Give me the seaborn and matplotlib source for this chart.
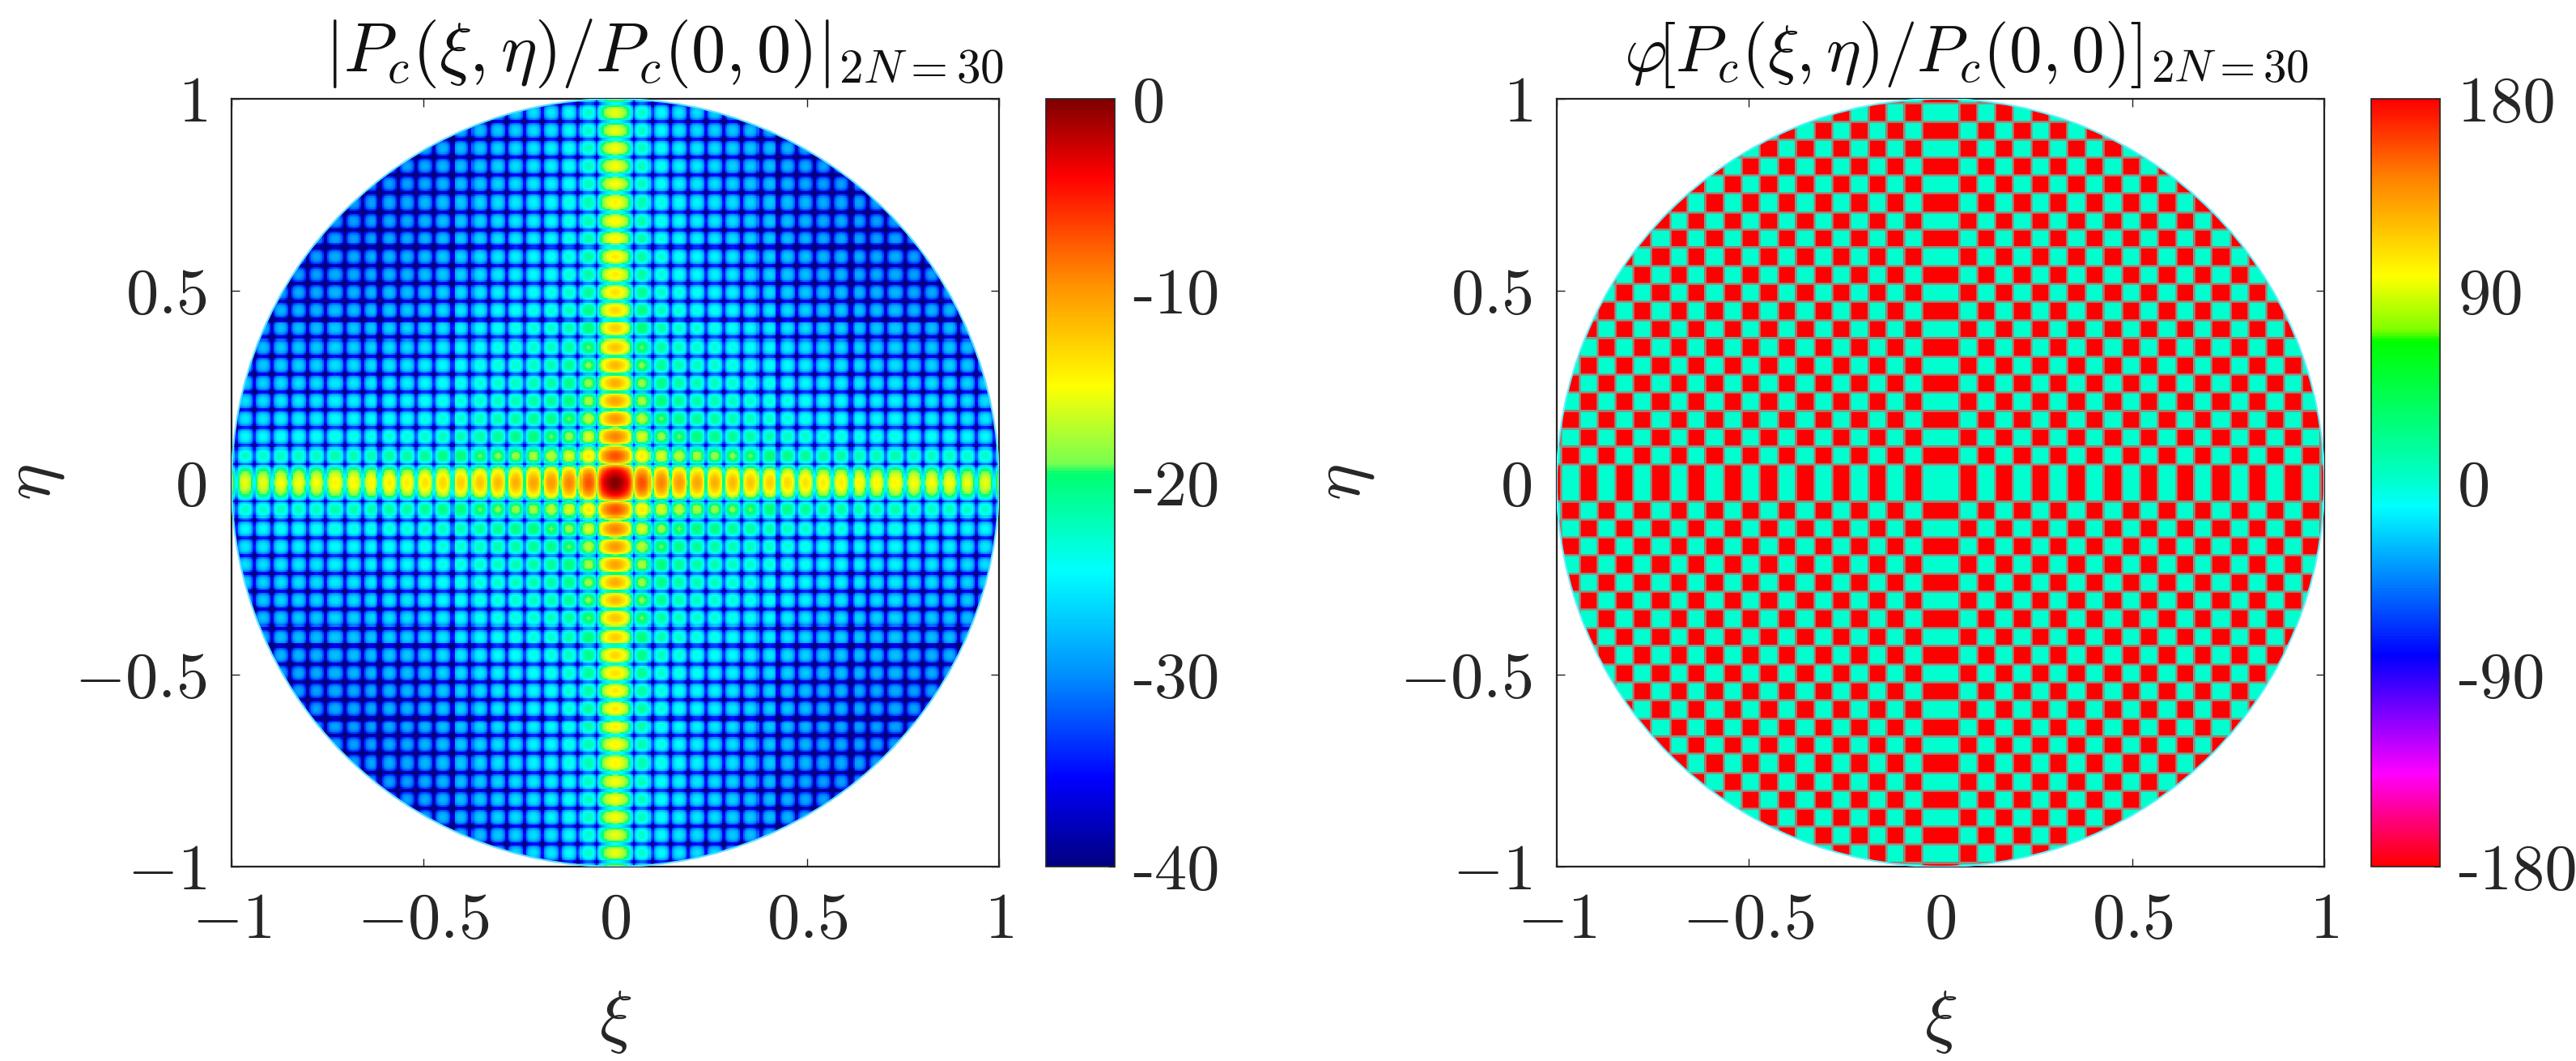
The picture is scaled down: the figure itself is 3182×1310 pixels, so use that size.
import numpy as np
import matplotlib
matplotlib.use('Agg')
import matplotlib.pyplot as plt
from matplotlib.colors import LinearSegmentedColormap
from matplotlib.patches import Circle
import seaborn as sns

# =============================================================================
# #Values
# =============================================================================
# edges of the lobes along one axis (positive side, the picture is symmetric)
lobe_edges = [0.048, 0.095, 0.142, 0.188, 0.236, 0.282, 0.329, 0.378, 0.424, 0.473, 0.519,
              0.565, 0.614, 0.660, 0.705, 0.755, 0.802, 0.848, 0.894, 0.941, 0.989]
# peak level of each side lobe on the axis, dB
axis_lobe_db = [-7.0, -9.0, -10.0, -10.5, -11.0, -11.5, -12.0, -12.5, -13.0, -13.5, -14.0,
                -14.0, -14.5, -14.5, -14.5, -15.0, -15.0, -15.0, -15.5, -15.5, -15.5, -15.5]
# level inside a lobe relative to its peak, dB
side_lobe_profile_db = [-9.0, -4.0, -1.8, -0.7, -0.2, 0.0, -0.2, -0.7, -1.8, -4.0, -9.0]
main_lobe_half_db = [0.0, -0.2, -0.5, -1.0, -1.5, -2.2, -3.0, -4.0, -5.5, -7.5, -10.5]
# phase of each lobe along one axis, main lobe first, degrees
lobe_phase_deg = [0, 180, 0, 180, 0, 180, 0, 180, 0, 180, 0, 180,
                  0, 180, 0, 180, 0, 180, 0, 180, 0, 180]
lobe_phase_deg = lobe_phase_deg + [0]

tick_values = [-1, -0.5, 0, 0.5, 1]
tick_labels = ['$-1$', '$-0.5$', '$0$', '$0.5$', '$1$']
mag_cbar_ticks = [-40, -30, -20, -10, 0]
phase_cbar_ticks = [-180, -90, 0, 90, 180]
mag_title = r'$|P_c(\xi,\eta)/P_c(0,0)|_{2N{=}30}$'
phase_title = r'$\varphi\![P_c(\xi,\eta)/P_c(0,0)]_{2N{=}30}$'

jet_nodes = [(0.0, '#000080'), (0.113, '#0000ff'), (0.25, '#0090ff'), (0.384, '#00ffff'),
             (0.512, '#00ff70'), (0.525, '#78ff50'), (0.627, '#ffff00'), (0.76, '#ff9000'),
             (0.90, '#ff0000'), (1.0, '#800000')]
phase_nodes = [(0.0, '#ff0000'), (0.12, '#ff00ff'), (0.274, '#0000ff'), (0.469, '#00ffff'),
               (0.50, '#00ffd0'), (0.685, '#00ff00'), (0.70, '#80ff00'), (0.77, '#ffff00'),
               (0.90, '#ff8000'), (1.0, '#ff0000')]

# =============================================================================
# #Build the fields from the axis cuts (the pattern is separable in dB)
# =============================================================================
n = 474
coords = -1 + (np.arange(n) + 0.5) * 2 / n
edges = np.array(lobe_edges)
lobe_idx = np.searchsorted(edges, np.abs(coords))

cut_db = np.zeros(n)
cut_phase = np.zeros(n)
for i in range(n):
    k = lobe_idx[i]
    cut_phase[i] = lobe_phase_deg[k]
    if k == 0:
        s = int(abs(coords[i]) / edges[0] * len(main_lobe_half_db))
        cut_db[i] = main_lobe_half_db[min(s, len(main_lobe_half_db) - 1)]
    else:
        hi = edges[k] if k < len(edges) else edges[-1] + 0.047
        s = int((abs(coords[i]) - edges[k - 1]) / (hi - edges[k - 1]) * len(side_lobe_profile_db))
        cut_db[i] = axis_lobe_db[k - 1] + side_lobe_profile_db[min(s, len(side_lobe_profile_db) - 1)]

mag = np.clip(cut_db[:, None] + cut_db[None, :], -40, 0)
phase = (cut_phase[:, None] + cut_phase[None, :]) % 360
outside = coords[:, None] ** 2 + coords[None, :] ** 2 > 1

# =============================================================================
# #Figure
# =============================================================================
sns.set_theme(style='white')
plt.rcParams['mathtext.fontset'] = 'cm'
plt.rcParams['font.family'] = ['cmr10', 'DejaVu Sans']
plt.rcParams['axes.formatter.use_mathtext'] = True

W, H = 3182, 1310
fig = plt.figure(figsize=(W / 100, H / 100), dpi=100, facecolor='white')


def px_axes(x0, x1, y0, y1):
    return fig.add_axes([x0 / W, 1 - y1 / H, (x1 - x0) / W, (y1 - y0) / H])


def draw_panel(data, box, cbar_box, cmap_nodes, vmin, vmax, cbar_ticks, title, title_x, title_size, ylabel_x):
    ax = px_axes(*box)
    cax = px_axes(*cbar_box)
    cmap = LinearSegmentedColormap.from_list('c', cmap_nodes, N=256)
    sns.heatmap(data, mask=outside, ax=ax, cbar_ax=cax, cmap=cmap, vmin=vmin, vmax=vmax,
                xticklabels=False, yticklabels=False, square=False,
                cbar_kws={'ticks': cbar_ticks})
    # heatmap is in cell units, the ticks go through the xi/eta range
    ax.set_xticks([(v + 1) / 2 * n for v in tick_values])
    ax.set_xticklabels(tick_labels, fontsize=58)
    ax.set_yticks([(1 - v) / 2 * n for v in tick_values])
    ax.set_yticklabels(tick_labels, fontsize=58)
    ax.tick_params(axis='x', direction='in', top=True, bottom=True, length=7.5, width=1, color='#222222', pad=23)
    ax.tick_params(axis='y', direction='in', left=True, right=True, length=7.5, width=1, color='#222222', pad=22)
    for s in ax.spines.values():
        s.set_visible(True)
        s.set_color('#222222')
        s.set_linewidth(1.6)
    ax.set_xlabel(r'$\xi$', fontsize=62, labelpad=34)
    ax.set_ylabel(r'$\eta$', fontsize=62)
    ax.yaxis.set_label_coords(ylabel_x, 0.5)
    fig.text(title_x / W, 1 - 88 / H, title, fontsize=title_size, ha='center', va='baseline', color='#111111')

    cbar = ax.collections[0].colorbar
    cbar.ax.set_yticklabels([str(t) for t in cbar_ticks], fontsize=58)
    cbar.ax.tick_params(direction='in', right=True, left=False, length=6, width=1, color='#222222', pad=16)
    cbar.outline.set_visible(True)
    cbar.outline.set_edgecolor('#222222')
    cbar.outline.set_linewidth(1.2)
    return ax


def rim(ax, color):
    c = Circle((n / 2, n / 2), n / 2, fill=False, edgecolor=color, lw=1.5, zorder=3)
    ax.add_patch(c)
    return c


ax1 = draw_panel(mag, (286, 1234, 122, 1070), (1292, 1377, 122, 1070), jet_nodes, -40, 0,
                 mag_cbar_ticks, mag_title, 821, 61, -0.215)
rim(ax1, '#60e0ff')

ax2 = draw_panel(phase, (1923, 2871, 122, 1070), (2929, 3014, 122, 1070), phase_nodes, -180, 180,
                 phase_cbar_ticks, phase_title, 2429, 58.5, -0.235)
clip = rim(ax2, '#60f0ff')

# grey seams between the phase cells
edge_vals = np.array([-e for e in lobe_edges] + lobe_edges)
edge_pos = (edge_vals + 1) / 2 * n
v = ax2.vlines(edge_pos, 0, n, color='#968c80', lw=1.8, zorder=2)
h = ax2.hlines(edge_pos, 0, n, color='#968c80', lw=1.8, zorder=2)
v.set_clip_path(clip)
h.set_clip_path(clip)

fig.savefig('out.png', dpi=100, facecolor='white')
